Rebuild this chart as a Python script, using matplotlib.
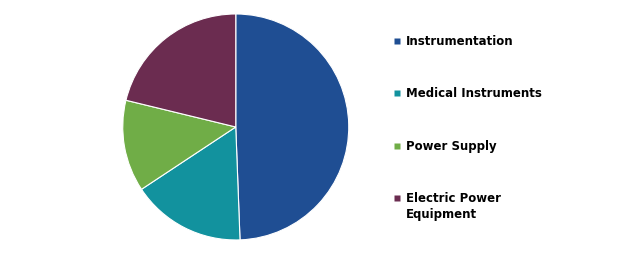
import matplotlib.pyplot as plt

labels = ['Instrumentation', 'Medical Instruments', 'Power Supply', 'Electric Power\nEquipment']
shares = [49.4, 16.3, 13.1, 21.2]
colors = ['#1F4E93', '#12929E', '#70AD47', '#6B2C50']

fig = plt.figure(figsize=(6.2, 2.56), dpi=100)
ax = fig.add_axes([0.198, 0.0625, 0.3645, 0.883])
ax.pie(shares, colors=colors, startangle=90, counterclock=False,
       wedgeprops=dict(edgecolor='white', linewidth=0.8))
ax.set_xlim(-1, 1)
ax.set_ylim(-1, 1)
ax.set_aspect('equal')

# legend drawn by hand in pixel coords
lax = fig.add_axes([0, 0, 1, 1])
lax.set_xlim(0, 620)
lax.set_ylim(256, 0)
lax.axis('off')
row_y = [41, 93, 146, 198]
for y, lab, c in zip(row_y, labels, colors):
    lax.plot(397, y, marker='s', ms=5, color=c, mec='none')
    lax.text(406, y - 6, lab, fontsize=8.5, fontweight='bold', va='top', ha='left',
             linespacing=1.3)

fig.savefig('out.png', dpi=100)
